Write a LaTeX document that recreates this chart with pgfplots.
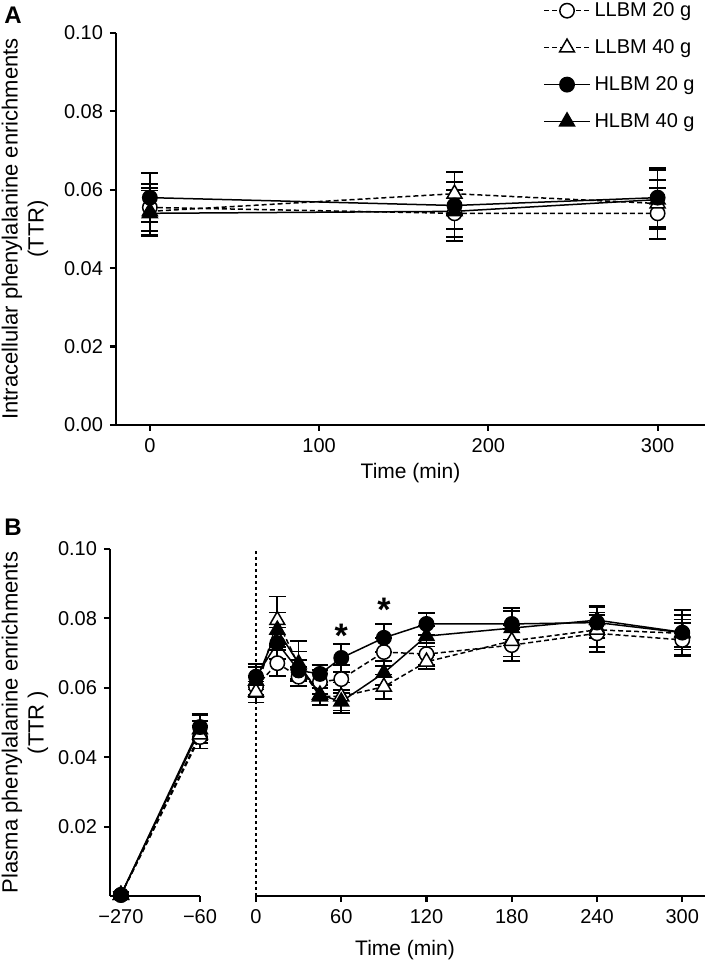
\documentclass[border=0pt]{standalone}
\usepackage{fontspec}
\setmainfont{Liberation Sans}
\usepackage{pgfplots}
\pgfplotsset{compat=1.18}

\pgfplotsset{
  myaxis/.style={
    scale only axis,
    axis x line*=bottom, axis y line*=left,
    axis line style={line width=1.1pt},
    every tick/.style={line width=1.1pt, black},
    major tick length=3pt,
    tick align=outside,
    ticklabel style={font=\fontsize{10}{12}\selectfont},
    xlabel style={font=\fontsize{10.5}{12.5}\selectfont},
    ylabel style={font=\fontsize{11}{13}\selectfont},
    /pgf/number format/assume math mode=true,
    scaled y ticks=false,
    yticklabel style={/pgf/number format/.cd, fixed, fixed zerofill, precision=2},
    ymin=0, ymax=0.1,
    clip=false,
    error bars/y dir=both, error bars/y explicit,
    error bars/error bar style={solid, line width=0.85pt},
    error bars/error mark options={rotate=90, mark size=4.2pt, line width=0.85pt, solid},
  },
  dsh/.style={black, line width=0.75pt, dash pattern=on 2.5pt off 1.5pt},
  sld/.style={black, line width=0.75pt, solid},
  ll20/.style={dsh, mark=*, mark size=3.6pt, mark options={solid, fill=white, draw=black, line width=0.75pt}},
  ll40/.style={dsh, mark=triangle*, mark size=4.3pt, mark options={solid, fill=white, draw=black, line width=0.75pt}},
  hl20/.style={sld, mark=*, mark size=3.6pt, mark options={solid, fill=black, draw=black}},
  hl40/.style={sld, mark=triangle*, mark size=4.3pt, mark options={solid, fill=black, draw=black}},
}

\begin{document}
\begin{tikzpicture}
\useasboundingbox (0,0) rectangle (354.5pt,483pt);

% ---------------- Panel A ----------------
\begin{axis}[myaxis,
  at={(58pt,270.5pt)}, anchor=south west,
  width=294.5pt, height=196pt,
  xmin=-20, xmax=328,
  xtick={0,100,200,300},
  ytick={0,0.02,0.04,0.06,0.08,0.1},
  xlabel={Time (min)},
  xlabel style={yshift=1.5pt},
  ylabel={Intracellular phenylalanine enrichments\\(TTR)},
  ylabel style={align=center},
  ylabel shift=1pt,
  legend style={draw=none, fill=none, at={(1.0,1.10)}, anchor=north east,
    font=\fontsize{10}{12}\selectfont, row sep=6pt, cells={anchor=west}},
  legend image code/.code={\draw[mark repeat=2, mark phase=2, #1] plot coordinates {(0cm,0cm) (0.4cm,0cm) (0.8cm,0cm)};},
]
\addplot[ll20] coordinates {(0,0.0555) +- (0,0.0060) (180,0.054) +- (0,0.0060) (300,0.054) +- (0,0.0065)};
\addlegendentry{LLBM 20 g}
\addplot[ll40] coordinates {(0,0.0545) +- (0,0.0060) (180,0.059) +- (0,0.0055) (300,0.0565) +- (0,0.0060)};
\addlegendentry{LLBM 40 g}
\addplot[hl20] coordinates {(0,0.058) +- (0,0.0063) (180,0.056) +- (0,0.0060) (300,0.058) +- (0,0.0075)};
\addlegendentry{HLBM 20 g}
\addplot[hl40] coordinates {(0,0.054) +- (0,0.0058) (180,0.0545) +- (0,0.0075) (300,0.0575) +- (0,0.0075)};
\addlegendentry{HLBM 40 g}
\end{axis}

% ---------------- Panel B, left part ----------------
\begin{axis}[myaxis,
  at={(55pt,35pt)}, anchor=south west,
  width=45pt, height=173.5pt,
  xmin=-299, xmax=-60,
  xtick={-270,-60}, xticklabels={−270,−60},
  ytick={0.02,0.04,0.06,0.08,0.1},
  ylabel={Plasma phenylalanine enrichments\\(TTR )},
  ylabel style={align=center},
  ylabel shift=-2pt,
]
\addplot[ll20] coordinates {(-270,0.0003) +- (0,0.0008) (-60,0.0458) +- (0,0.0033)};
\addplot[ll40] coordinates {(-270,0.0003) +- (0,0.0008) (-60,0.0465) +- (0,0.0040)};
\addplot[hl20] coordinates {(-270,0.0003) +- (0,0.0008) (-60,0.0487) +- (0,0.0038)};
\addplot[hl40] coordinates {(-270,0.0003) +- (0,0.0008) (-60,0.0480) +- (0,0.0040)};
\end{axis}

% ---------------- Panel B, right part ----------------
\begin{axis}[myaxis,
  at={(128pt,35pt)}, anchor=south west,
  width=224.5pt, height=173.5pt,
  axis y line=none,
  xmin=0, xmax=316,
  xtick={0,60,120,180,240,300},
]
\draw[black, line width=1.2pt, dash pattern=on 1.6pt off 1.4pt] (axis cs:0,0) -- (axis cs:0,0.1);
\addplot[ll20] coordinates {
 (0,0.0603) +- (0,0.0030) (15,0.0671) +- (0,0.0038) (30,0.0632) +- (0,0.0027)
 (45,0.0617) +- (0,0.0035) (60,0.0625) +- (0,0.0040) (90,0.0703) +- (0,0.0040)
 (120,0.0697) +- (0,0.0032) (180,0.0723) +- (0,0.0046) (240,0.0757) +- (0,0.0053)
 (300,0.0738) +- (0,0.0048)};
\addplot[ll40] coordinates {
 (0,0.0588) +- (0,0.0030) (15,0.0795) +- (0,0.0068) (30,0.0665) +- (0,0.0040)
 (45,0.0575) +- (0,0.0025) (60,0.0575) +- (0,0.0040) (90,0.0603) +- (0,0.0035)
 (120,0.0675) +- (0,0.0020) (180,0.0735) +- (0,0.0045) (240,0.0767) +- (0,0.0050)
 (300,0.0757) +- (0,0.0040)};
\addplot[hl20] coordinates {
 (0,0.0632) +- (0,0.0037) (15,0.0729) +- (0,0.0045) (30,0.0650) +- (0,0.0030)
 (45,0.0640) +- (0,0.0025) (60,0.0686) +- (0,0.0040) (90,0.0744) +- (0,0.0040)
 (120,0.0784) +- (0,0.0031) (180,0.0784) +- (0,0.0045) (240,0.0788) +- (0,0.0045)
 (300,0.0759) +- (0,0.0065)};
\addplot[hl40] coordinates {
 (0,0.0620) +- (0,0.0040) (15,0.0767) +- (0,0.0050) (30,0.0670) +- (0,0.0065)
 (45,0.0580) +- (0,0.0028) (60,0.0560) +- (0,0.0033) (90,0.0643) +- (0,0.0035)
 (120,0.0749) +- (0,0.0030) (180,0.0772) +- (0,0.0050) (240,0.0795) +- (0,0.0042)
 (300,0.0760) +- (0,0.0050)};
\node[font=\fontsize{17}{17}\selectfont\bfseries, anchor=north] at (axis cs:60,0.0805) {*};
\node[font=\fontsize{17}{17}\selectfont\bfseries, anchor=north] at (axis cs:90,0.0878) {*};
\end{axis}

\node[font=\fontsize{10.5}{12.5}\selectfont] at (202.5pt,8pt) {Time (min)};
\node[font=\fontsize{12}{14}\selectfont\bfseries] at (6.5pt,475.5pt) {A};
\node[font=\fontsize{12}{14}\selectfont\bfseries] at (6.5pt,219.5pt) {B};
\end{tikzpicture}
\end{document}
